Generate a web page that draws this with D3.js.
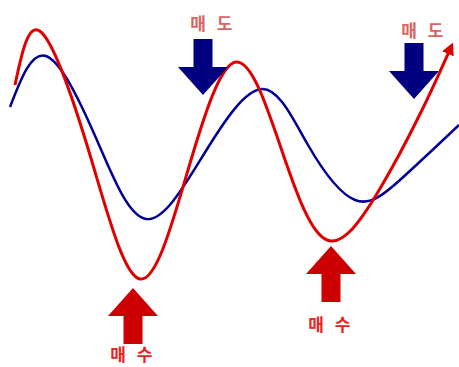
<!DOCTYPE html>
<html>
<head>
<meta charset="utf-8">
<script src="https://cdn.jsdelivr.net/npm/d3@7"></script>
<style>
  html, body { margin: 0; padding: 0; background: #fff; }
  svg { display: block; }
</style>
</head>
<body>
<div id="chart"></div>
<script>
// price curves (x = time step, y = price level)
// only turning points and half-way points, so the spline stays smooth
const fastX = [15, 41, 90, 140, 188, 236, 282, 327, 378, 422, 451];
const fastY = [282, 335, 212, 88, 197, 305, 216, 127, 175, 257, 320];

const slowX = [10, 46, 96, 146, 204, 262, 308, 355, 400, 459];
const slowY = [260, 311, 229, 148, 213, 278, 222, 167, 187, 242];

// signals: arrow tip position + label
const sellX = [203, 414];
const sellY = [272, 268];
const sellLabel = ["매 도", "매 도"];

const buyX = [133, 331];
const buyY = [79, 121];
const buyLabel = ["매 수", "매 수"];

const W = 459, H = 367;

const svg = d3.select("#chart").append("svg")
    .attr("width", W)
    .attr("height", H);

const x = d3.scaleLinear().domain([0, 459]).range([0, W]);
const y = d3.scaleLinear().domain([0, 367]).range([H, 0]);

const fast = fastX.map(function(d, i){ return { t: d, v: fastY[i] }; });
const slow = slowX.map(function(d, i){ return { t: d, v: slowY[i] }; });

const line = d3.line()
    .x(function(d){ return x(d.t); })
    .y(function(d){ return y(d.v); })
    .curve(d3.curveNatural);

// small arrow head at the end of the red line
svg.append("defs").append("marker")
    .attr("id", "head")
    .attr("viewBox", "0 0 10 10")
    .attr("refX", 6)
    .attr("refY", 5)
    .attr("markerWidth", 4.2)
    .attr("markerHeight", 4.2)
    .attr("markerUnits", "strokeWidth")
    .attr("orient", "auto")
    .append("path")
    .attr("d", "M0,0 L10,5 L0,10 Z")
    .attr("fill", "#e00000");

svg.append("path")
    .datum(slow)
    .attr("d", line)
    .attr("fill", "none")
    .attr("stroke", "#000096")
    .attr("stroke-width", 2.5);

svg.append("path")
    .datum(fast)
    .attr("d", line)
    .attr("fill", "none")
    .attr("stroke", "#e00000")
    .attr("stroke-width", 3)
    .attr("marker-end", "url(#head)");

// block arrows
const len = 56, headH = 28, headW = 50, shaftW = 19;

function arrowDown(px, py) {
    return [
        [px - shaftW / 2, py - len],
        [px + shaftW / 2, py - len],
        [px + shaftW / 2, py - headH],
        [px + headW / 2, py - headH],
        [px, py],
        [px - headW / 2, py - headH],
        [px - shaftW / 2, py - headH]
    ];
}

function arrowUp(px, py) {
    return arrowDown(px, py).map(function(p){ return [p[0], 2 * py - p[1]]; });
}

const sells = sellX.map(function(d, i){ return { t: d, v: sellY[i], label: sellLabel[i] }; });
const buys = buyX.map(function(d, i){ return { t: d, v: buyY[i], label: buyLabel[i] }; });

svg.selectAll("polygon.sell")
    .data(sells)
    .join("polygon")
    .attr("class", "sell")
    .attr("points", function(d){ return arrowDown(x(d.t), y(d.v)).join(" "); })
    .attr("fill", "#000080");

svg.selectAll("polygon.buy")
    .data(buys)
    .join("polygon")
    .attr("class", "buy")
    .attr("points", function(d){ return arrowUp(x(d.t), y(d.v)).join(" "); })
    .attr("fill", "#cc0000");

svg.selectAll("text.sell")
    .data(sells)
    .join("text")
    .attr("class", "sell")
    .attr("x", function(d){ return x(d.t) + 10; })
    .attr("y", function(d, i){ return y(d.v) - len - 9 + i * 3; })
    .attr("text-anchor", "middle")
    .attr("font-family", "'Noto Sans CJK KR', sans-serif")
    .attr("font-size", 17)
    .attr("font-weight", "bold")
    .attr("letter-spacing", 3.5)
    .attr("fill", "#d86464")
    .text(function(d){ return d.label; });

svg.selectAll("text.buy")
    .data(buys)
    .join("text")
    .attr("class", "buy")
    .attr("x", function(d){ return x(d.t); })
    .attr("y", function(d, i){ return y(d.v) + len + (i === 0 ? 17 : 29); })
    .attr("text-anchor", "middle")
    .attr("font-family", "'Noto Sans CJK KR', sans-serif")
    .attr("font-size", 17)
    .attr("font-weight", "bold")
    .attr("letter-spacing", 3.5)
    .attr("fill", "#e62222")
    .text(function(d){ return d.label; });
</script>
</body>
</html>
